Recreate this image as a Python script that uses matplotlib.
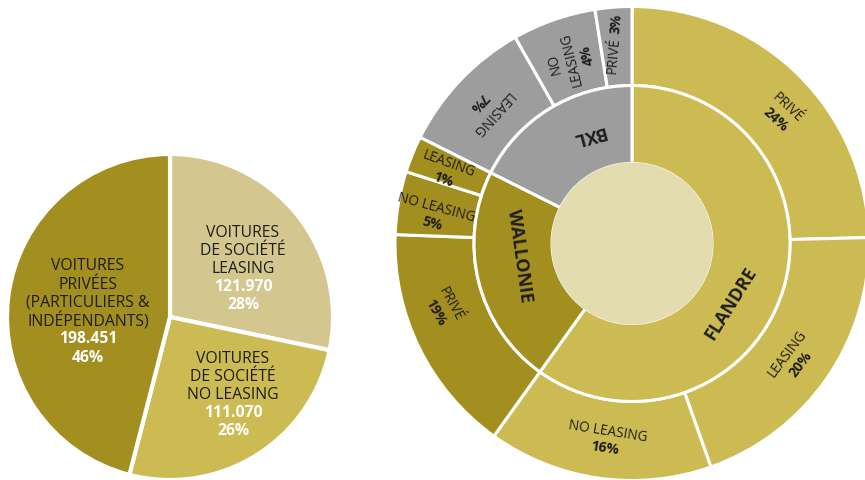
import matplotlib
matplotlib.use("Agg")
import matplotlib.pyplot as plt
from matplotlib.patches import Circle
import numpy as np

plt.rcParams['font.family'] = ['Open Sans', 'DejaVu Sans']

#_____________________________________________________________________________________
#Left pie: company / private cars (clockwise from 12 o'clock)

car_names = [["VOITURES", "DE SOCIÉTÉ", "LEASING"],
             ["VOITURES", "DE SOCIÉTÉ", "NO LEASING"],
             ["VOITURES", "PRIVÉES", "(PARTICULIERS &", "INDÉPENDANTS)"]]
car_counts = [121970, 111070, 198451]
car_count_labels = ["121.970", "111.070", "198.451"]
car_pct_labels = ["28%", "26%", "46%"]
car_colors = ["#d3c68f", "#ccba52", "#a38e20"]

#_____________________________________________________________________________________
#Right sunburst: regions (inner ring) and their split (outer ring)

regions = ["FLANDRE", "WALLONIE", "BXL"]
region_shares = [59.9, 22.5, 17.6]
region_colors = ["#ccba52", "#a38e20", "#9d9d9d"]

sub_names = ["PRIVÉ", "LEASING", "NO LEASING",
             "PRIVÉ", "NO LEASING", "LEASING",
             "LEASING", "NO LEASING", "PRIVÉ"]
sub_shares = [24.6, 20.0, 15.3,
              15.7, 4.3, 2.5,
              9.4, 5.7, 2.5]
sub_pct = ["24%", "20%", "16%",
           "19%", "5%", "1%",
           "7%", "4%", "3%"]
sub_colors = ["#ccba52"] * 3 + ["#a38e20"] * 3 + ["#9d9d9d"] * 3

dark = "#1d1d1b"

fig = plt.figure(figsize=(8.65, 4.8), dpi=100)
ax = fig.add_axes([0, 0, 1, 1])


def stacked(x, y, lines, rot, gap):
    # lines = [(text, weight, color, size)], stacked perpendicular to the rotation
    t = np.deg2rad(rot)
    down = np.array([np.sin(t), -np.cos(t)])
    n = len(lines)
    for i, (txt, weight, col, size) in enumerate(lines):
        off = (i - (n - 1) / 2) * gap
        ax.text(x + off * down[0], y + off * down[1], txt, rotation=rot,
                rotation_mode='anchor', ha='center', va='center',
                fontsize=size, fontweight=weight, color=col)


def polar(center, angle, r):
    # angle clockwise from 12 o'clock
    a = np.deg2rad(angle)
    return center[0] + r * np.sin(a), center[1] + r * np.cos(a)


# left pie
pie_center = (170, 163)
ax.pie(car_counts, center=pie_center, radius=163, startangle=90, counterclock=False,
       colors=car_colors, wedgeprops=dict(edgecolor="white", linewidth=3))

car_text_pos = [(243, 211), (233, 85), (88, 168)]
for names, cnt, pct, (x, y) in zip(car_names, car_count_labels, car_pct_labels, car_text_pos):
    lines = [(s, "normal", dark, 11.3) for s in names] + \
            [(cnt, "bold", "white", 11.3), (pct, "bold", "white", 11.3)]
    stacked(x, y, lines, 0, 18.2)

# sunburst
sb_center = (632, 236.5)
ax.pie(sub_shares, center=sb_center, radius=237, startangle=90, counterclock=False,
       colors=sub_colors, wedgeprops=dict(width=79, edgecolor="white", linewidth=2.2))
ax.pie(region_shares, center=sb_center, radius=158, startangle=90, counterclock=False,
       colors=region_colors, wedgeprops=dict(width=78, edgecolor="white", linewidth=2.2))
ax.add_patch(Circle(sb_center, 81, facecolor="#e3dcaf", edgecolor="none", zorder=3))

region_label_pos = [(121.4, 116, 58), (263.7, 113, -82), (338, 117, 195)]
for name, (ang, r, rot) in zip(regions, region_label_pos):
    x, y = polar(sb_center, ang, r)
    ax.text(x, y, name, rotation=rot, rotation_mode='anchor', ha='center', va='center',
            fontsize=13, fontweight='bold', color=dark)

sub_label_pos = [(49, 198, -43), (125.6, 199, 53), (187.5, 198, -9),
                 (251, 200, -61), (278, 200, -15), (291, 199, -20),
                 (312.7, 200, 228), (341.7, 194, 104), (355, 200, 85)]
for i, (name, pct, (ang, r, rot)) in enumerate(zip(sub_names, sub_pct, sub_label_pos)):
    x, y = polar(sb_center, ang, r)
    if i == 7:
        lines = [("NO", "normal", dark, 9.8), ("LEASING", "normal", dark, 9.8),
                 (pct, "bold", dark, 10)]
        stacked(x, y, lines, rot, 16.5)
    elif i == 8:
        t = np.deg2rad(rot)
        along = np.array([np.cos(t), np.sin(t)])
        for txt, w, off in [(name, "normal", -11), (pct, "bold", 21)]:
            ax.text(x + off * along[0], y + off * along[1], txt, rotation=rot,
                    rotation_mode='anchor', ha='center', va='center',
                    fontsize=9.8, fontweight=w, color=dark)
    else:
        stacked(x, y, [(name, "normal", dark, 9.8), (pct, "bold", dark, 10)], rot, 17)

ax.set_xlim(0, 865)
ax.set_ylim(0, 480)
ax.set_aspect('equal')
ax.axis('off')

fig.savefig("out.png", dpi=100)
